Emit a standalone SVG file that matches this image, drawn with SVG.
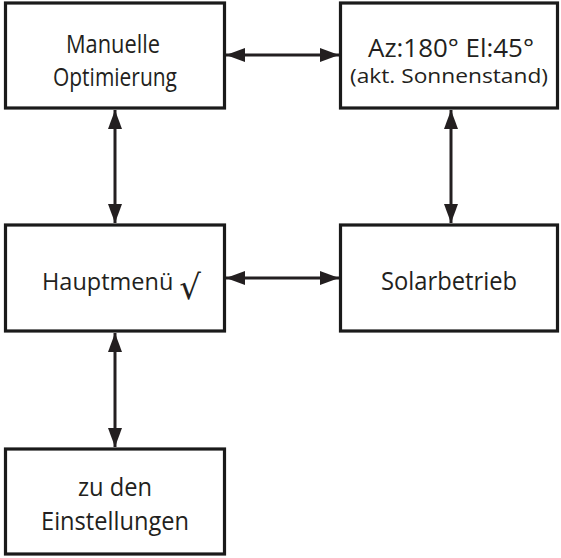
<svg xmlns="http://www.w3.org/2000/svg" width="561" height="558" viewBox="0 0 561 558">
<style>
.box{fill:#fff;stroke:#1a1a1a;stroke-width:3.2}
.t{font-family:"Open Sans","DejaVu Sans",sans-serif;font-size:26px;fill:#231f20;text-anchor:middle}
.s{font-size:20px}
.c{fill:none;stroke:#231f20;stroke-width:3;marker-start:url(#ah);marker-end:url(#ah)}
</style>
<defs>
<marker id="ah" markerUnits="userSpaceOnUse" markerWidth="19" markerHeight="14" refX="19" refY="7" orient="auto-start-reverse" viewBox="0 0 19 14">
<path d="M0,0 L19,7 L0,14 z" fill="#231f20"/>
</marker>
</defs>
<rect width="561" height="558" fill="#fff"/>
<g id="connectors">
<line class="c" x1="226" y1="55" x2="339" y2="55"/>
<line class="c" x1="115" y1="110" x2="115" y2="223"/>
<line class="c" x1="451" y1="110" x2="451" y2="223"/>
<line class="c" x1="226" y1="278" x2="339" y2="278"/>
<line class="c" x1="115" y1="333" x2="115" y2="447"/>
</g>
<g id="manuelle">
<rect class="box" x="5.5" y="3" width="219" height="105"/>
<text class="t" x="113" y="53" textLength="94" lengthAdjust="spacingAndGlyphs">Manuelle</text>
<text class="t" x="115" y="86" textLength="124" lengthAdjust="spacingAndGlyphs">Optimierung</text>
</g>
<g id="azel">
<rect class="box" x="340.5" y="3" width="217" height="105"/>
<text class="t" x="451" y="57" textLength="166" lengthAdjust="spacingAndGlyphs">Az:180° El:45°</text>
<text class="t s" x="449" y="83" textLength="198" lengthAdjust="spacingAndGlyphs">(akt. Sonnenstand)</text>
</g>
<g id="hauptmenu">
<rect class="box" x="5.5" y="225" width="219" height="106"/>
<text class="t" x="42" y="290" style="text-anchor:start;font-size:23.5px">Hauptmenü<tspan dx="6" dy="9" style="font-family:'DejaVu Sans',sans-serif;font-size:34px">√</tspan></text>
</g>
<g id="solar">
<rect class="box" x="340.5" y="225" width="217" height="106"/>
<text class="t" x="449" y="290" textLength="136" lengthAdjust="spacingAndGlyphs">Solarbetrieb</text>
</g>
<g id="einstellungen">
<rect class="box" x="5.5" y="449" width="219" height="105"/>
<text class="t" x="115" y="496" textLength="74" lengthAdjust="spacingAndGlyphs">zu den</text>
<text class="t" x="115" y="530" textLength="148" lengthAdjust="spacingAndGlyphs">Einstellungen</text>
</g>
</svg>
